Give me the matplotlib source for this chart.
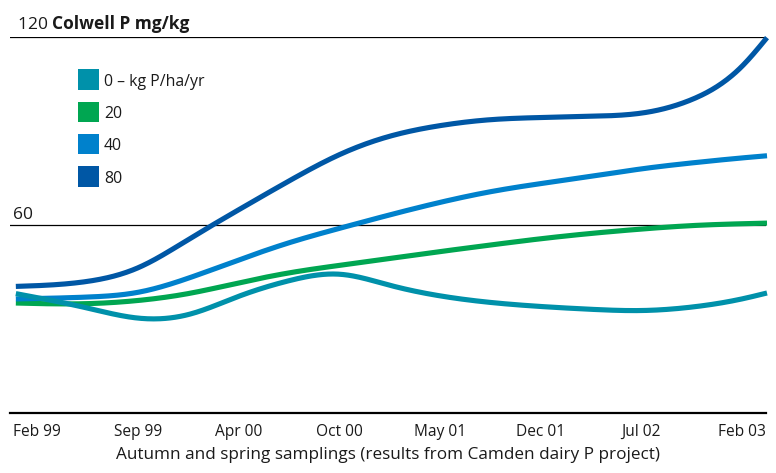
import matplotlib
matplotlib.use("Agg")
import matplotlib.pyplot as plt
from matplotlib.patches import Rectangle
import numpy as np

plt.rcParams['font.family'] = ['Open Sans', 'DejaVu Sans']

# sampling labels, evenly spaced on the axis
tick_labels = ['Feb 99', 'Sep 99', 'Apr 00', 'Oct 00', 'May 01', 'Dec 01', 'Jul 02', 'Feb 03']

t = np.array([-0.21, 0.5, 1.0, 1.5, 2.0, 2.5, 3.0, 3.5,
              4.0, 4.5, 5.0, 5.5, 6.0, 6.5, 7.0, 7.25])

# Colwell P (mg/kg)
p0 = np.array([38.1, 33.5, 30.3, 31.4, 37.2, 42.2, 44.3, 40.8,
               37.4, 35.3, 34.0, 33.1, 32.7, 33.8, 36.4, 38.3])
p20 = np.array([35.1, 34.9, 35.9, 38.1, 41.5, 44.7, 47.1, 49.3,
                51.5, 53.6, 55.6, 57.3, 58.7, 59.8, 60.4, 60.6])
p40 = np.array([36.4, 37.0, 38.5, 43.0, 48.8, 54.3, 58.9, 63.2,
                67.2, 70.6, 73.2, 75.5, 77.9, 79.8, 81.4, 82.1])
p80 = np.array([40.4, 42.0, 46.3, 55.3, 64.8, 74.0, 82.4, 88.3,
                91.7, 93.6, 94.3, 94.7, 95.7, 100.0, 110.6, 119.8])

labels = ['0 \u2013 kg P/ha/yr', '20', '40', '80']
colors = ['#0091AA', '#00A651', '#0081CC', '#0057A5']


def smooth(x, y, xn):
    # natural cubic spline, just for drawing smooth curves
    n = len(x)
    h = np.diff(x)
    A = np.zeros((n, n))
    b = np.zeros(n)
    A[0, 0] = A[-1, -1] = 1
    for i in range(1, n - 1):
        A[i, i - 1] = h[i - 1]
        A[i, i] = 2 * (h[i - 1] + h[i])
        A[i, i + 1] = h[i]
        b[i] = 3 * ((y[i + 1] - y[i]) / h[i] - (y[i] - y[i - 1]) / h[i - 1])
    c = np.linalg.solve(A, b)
    bb = (y[1:] - y[:-1]) / h - h * (2 * c[:-1] + c[1:]) / 3
    d = (c[1:] - c[:-1]) / (3 * h)
    idx = np.clip(np.searchsorted(x, xn) - 1, 0, n - 2)
    dx = xn - x[idx]
    return y[idx] + bb[idx] * dx + c[idx] * dx ** 2 + d[idx] * dx ** 3


W, H = 776, 473
txt = '#1a1a1a'
fig = plt.figure(figsize=(W / 100, H / 100), dpi=100)
ax = fig.add_axes([10 / W, 1 - 413 / H, 756 / W, 376 / H])

tn = np.linspace(t[0], t[-1], 600)
series = [p0, p20, p40, p80]
for k in [1, 2, 3, 0]:
    ax.plot(tn, smooth(t, series[k], tn), color=colors[k], lw=3.7,
            solid_capstyle='butt', clip_on=False, zorder=4 if k == 0 else 3)

ax.set_xlim(-0.268, 7.24)
ax.set_ylim(0, 120)

for v in [60, 120]:
    ax.axhline(v, color='black', lw=0.9, zorder=2)

for s in ['top', 'left', 'right']:
    ax.spines[s].set_visible(False)
ax.spines['bottom'].set_linewidth(1.6)

ax.set_yticks([])
ax.set_xticks(range(len(tick_labels)))
ax.set_xticklabels(tick_labels, fontsize=11.2)
ax.tick_params(axis='x', length=0, pad=8, colors=txt)
ax.set_xlabel('Autumn and spring samplings (results from Camden dairy P project)',
              fontsize=12.3, labelpad=5, color=txt)

# axis value labels sitting on the gridlines
t120 = fig.text(18 / W, 1 - 29 / H, '120 ', fontsize=12.5, va='baseline', color=txt)
ax.annotate('Colwell P mg/kg', xy=(1, 0), xycoords=t120, fontsize=12.5,
            fontweight='bold', ha='left', va='bottom', color=txt)
fig.text(13 / W, 1 - 219 / H, '60', fontsize=12.5, va='baseline', color=txt)

# legend: colour squares with labels
for i, (lab, c) in enumerate(zip(labels, colors)):
    top = 69.3 + 32.2 * i
    fig.patches.append(Rectangle((78 / W, 1 - (top + 20.7) / H), 20.7 / W, 20.7 / H,
                                 transform=fig.transFigure, facecolor=c,
                                 edgecolor='none'))
    fig.text(104 / W, 1 - (top + 16.8) / H, lab, fontsize=11.4, va='baseline', color=txt)

fig.savefig('out.png', dpi=100)
